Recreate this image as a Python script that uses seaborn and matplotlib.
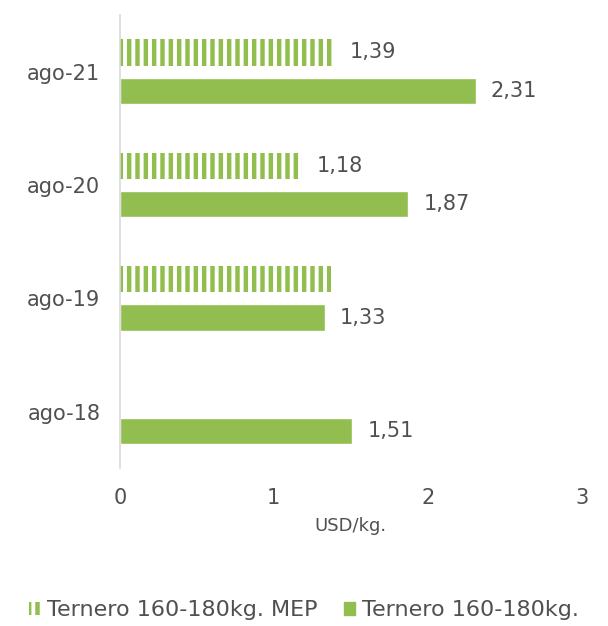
import numpy as np
import pandas as pd
import matplotlib
matplotlib.use("Agg")
import matplotlib.pyplot as plt
import matplotlib.patches as mpatches
import seaborn as sns

# datos
categorias = ["ago-21", "ago-20", "ago-19", "ago-18"]
serie_mep = [1.39, 1.18, 1.37, np.nan]
etiquetas_mep = ["1,39", "1,18", None, None]
serie_oficial = [2.31, 1.87, 1.33, 1.51]
etiquetas_oficial = ["2,31", "1,87", "1,33", "1,51"]
nombres = ["Ternero 160-180kg. MEP", "Ternero 160-180kg."]
ticks_x = [0, 1, 2, 3]

verde = "#92bd4f"
gris = "#505050"

sns.set_theme(style="white")
plt.rcParams["font.family"] = ["DejaVu Sans"]
plt.rcParams["hatch.linewidth"] = 3.2
plt.rcParams["hatch.color"] = verde

df = pd.DataFrame({
    "cat": categorias * 2,
    "valor": serie_mep + serie_oficial,
    "serie": [nombres[0]] * 4 + [nombres[1]] * 4,
})

fig = plt.figure(figsize=(6.08, 6.26), dpi=100)
ax = fig.add_axes([0.197, 0.252, 0.76, 0.724])

sns.barplot(data=df, x="valor", y="cat", hue="serie", order=categorias,
            hue_order=nombres, orient="h", width=0.68, gap=0.32,
            palette=[verde, verde], saturation=1, legend=False, ax=ax)

# barras MEP con rayas verticales
for p in ax.containers[0]:
    p.set_facecolor("white")
    p.set_edgecolor(verde)
    p.set_hatch("||")
    p.set_linewidth(0)

for cont, etq, vals in zip(ax.containers, [etiquetas_mep, etiquetas_oficial],
                           [serie_mep, serie_oficial]):
    for p in cont:
        y = p.get_y() + p.get_height() / 2
        i = int(round(y))
        if etq[i] is None:
            continue
        ax.text(vals[i] + 0.1, y, etq[i], va="center", ha="left",
                fontsize=15, color=gris)

ax.set_xlim(0, 3)
ax.set_ylim(3.5, -0.5)
ax.set_xticks(ticks_x)
ax.set_xticklabels([str(t) for t in ticks_x])
ax.tick_params(axis="x", length=0, pad=14, labelsize=15, labelcolor=gris)
ax.tick_params(axis="y", length=0, pad=14, labelsize=15, labelcolor=gris)
ax.set_ylabel("")
ax.set_xlabel("USD/kg.", fontsize=13, color=gris, labelpad=7)
for s in ["top", "right", "bottom"]:
    ax.spines[s].set_visible(False)
ax.spines["left"].set_color("#d9d9d9")
ax.spines["left"].set_linewidth(1.2)

h1 = mpatches.Patch(facecolor="white", edgecolor=verde, hatch="||", linewidth=0)
h2 = mpatches.Patch(facecolor=verde, edgecolor=verde)
fig.legend([h1, h2], nombres, loc="center", bbox_to_anchor=(0.5, 0.025),
           ncol=2, frameon=False, fontsize=16, labelcolor=gris,
           handlelength=0.5, handleheight=0.5, handletextpad=0.3,
           columnspacing=1.2)

fig.savefig("out.png", dpi=100)
